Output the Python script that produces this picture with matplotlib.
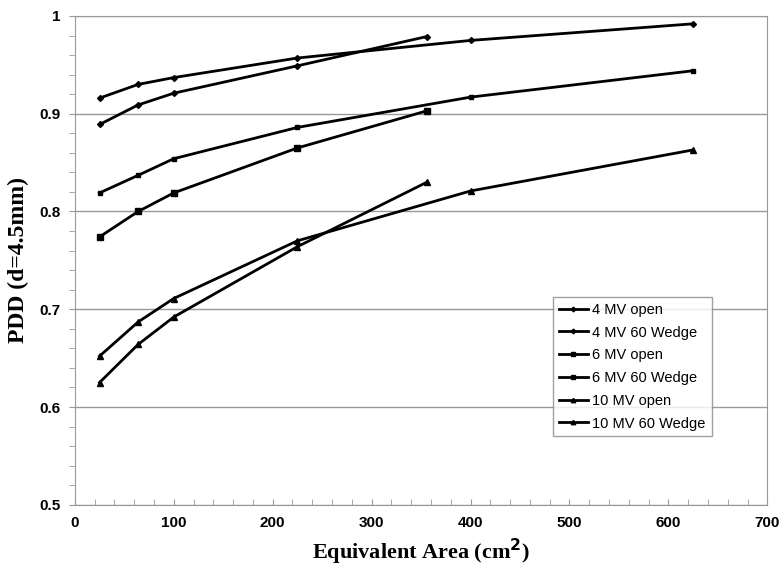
import matplotlib
matplotlib.use("Agg")
import matplotlib.pyplot as plt
from matplotlib.ticker import MultipleLocator

# field sizes (equivalent area, cm^2)
area_open = [25, 64, 100, 225, 400, 625]
area_wedge = [25, 64, 100, 225, 356]

pdd_4_open = [0.916, 0.930, 0.937, 0.957, 0.975, 0.992]
pdd_4_wedge = [0.889, 0.909, 0.921, 0.949, 0.979]
pdd_6_open = [0.819, 0.837, 0.854, 0.886, 0.917, 0.944]
pdd_6_wedge = [0.774, 0.800, 0.819, 0.865, 0.903]
pdd_10_open = [0.652, 0.687, 0.711, 0.770, 0.821, 0.863]
pdd_10_wedge = [0.625, 0.664, 0.692, 0.764, 0.830]

labels = ["4 MV open", "4 MV 60 Wedge", "6 MV open", "6 MV 60 Wedge",
          "10 MV open", "10 MV 60 Wedge"]
yticks = [0.5, 0.6, 0.7, 0.8, 0.9, 1.0]
ytick_labels = ["0.5", "0.6", "0.7", "0.8", "0.9", "1"]

fig = plt.figure(figsize=(7.79, 5.71), dpi=100)
ax = fig.add_axes([0.096, 0.116, 0.889, 0.856])

series = [
    (area_open, pdd_4_open, "D", 3),
    (area_wedge, pdd_4_wedge, "D", 3),
    (area_open, pdd_6_open, "s", 3),
    (area_wedge, pdd_6_wedge, "s", 4),
    (area_open, pdd_10_open, "^", 4),
    (area_wedge, pdd_10_wedge, "^", 4),
]
for (xs, ys, m, ms), lab in zip(series, labels):
    ax.plot(xs, ys, color="black", lw=2, marker=m, ms=ms, label=lab)

ax.set_xlim(0, 700)
ax.set_ylim(0.5, 1.0)
ax.xaxis.set_major_locator(MultipleLocator(100))
ax.xaxis.set_minor_locator(MultipleLocator(20))
ax.yaxis.set_minor_locator(MultipleLocator(0.02))
ax.set_yticks(yticks)
ax.set_yticklabels(ytick_labels)
ax.grid(axis="y", which="major", color="#999999", lw=1)
ax.set_axisbelow(True)
for s in ax.spines.values():
    s.set_color("#999999")
ax.tick_params(which="both", colors="#999999", labelcolor="black", labelsize=11)
ax.tick_params(axis="x", which="both", direction="in", length=4, pad=8)
ax.tick_params(axis="y", which="both", direction="out", length=4, pad=6)
for t in ax.get_xticklabels() + ax.get_yticklabels():
    t.set_family("Liberation Sans")
    t.set_fontweight("bold")

ax.set_xlabel("Equivalent Area (cm$^\\mathbf{2}$)", family="Liberation Serif",
              fontsize=16, fontweight="bold", labelpad=5)
ax.set_ylabel("PDD (d=4.5mm)", family="Liberation Serif", fontsize=17,
              fontweight="bold", labelpad=8)

leg = ax.legend(loc="upper left", bbox_to_anchor=(0.68, 0.44), frameon=True,
                fancybox=False, edgecolor="#888888",
                prop={"family": "Liberation Sans", "size": 10.5},
                handlelength=2, handletextpad=0.3, labelspacing=0.6,
                borderpad=0.4, markerscale=0.8)

fig.savefig("out.png", dpi=100)
